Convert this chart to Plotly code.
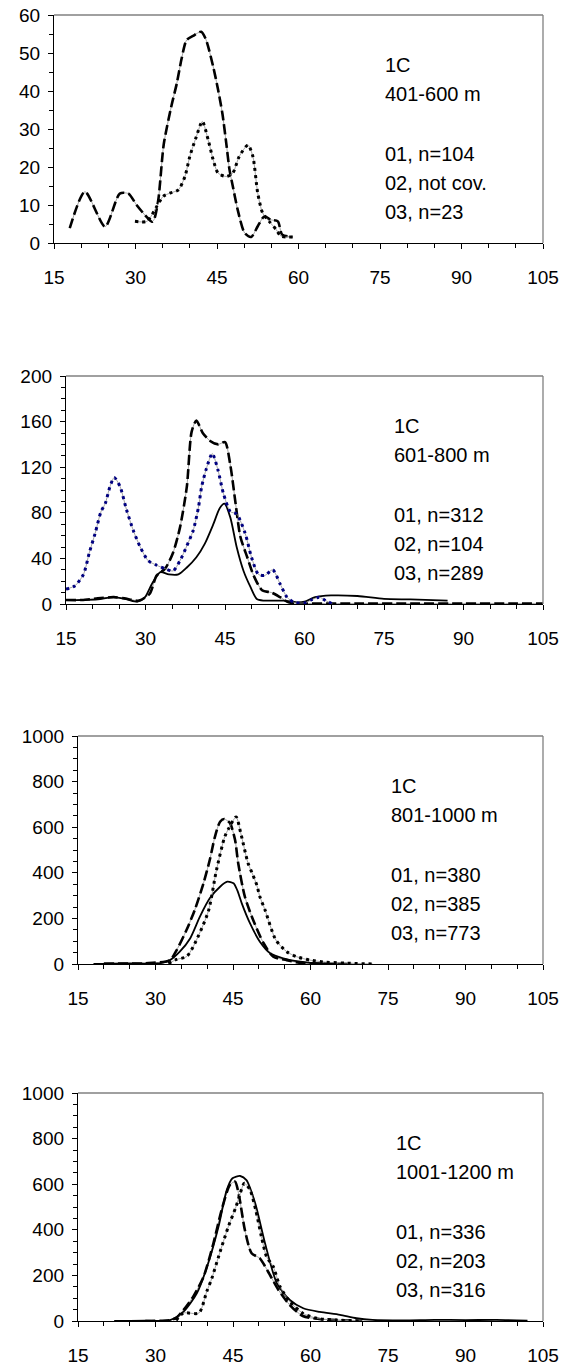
"""
Depth-stratified length distributions, area 1C, four depth bands.
"""

import plotly.graph_objects as go

W, H = 565, 1366

# ---- panel 1: 401-600 m ----
p1_x01 = [17.9, 20.7, 24.4, 27.1, 28.7, 30.2, 31.7, 33.0, 33.4, 34.2, 35.2, 36.6, 37.6, 38.5,
          39.4, 40.6, 42.1, 43.0, 44.3, 45.2, 46.0, 46.7, 47.3, 47.9, 48.8, 50.1, 51.3, 52.5,
          53.7, 54.9, 56.2, 57.0, 58.9]
p1_y01 = [3.9, 13.5, 4.3, 13.0, 13.0, 10.0, 7.4, 5.6, 6.1, 11.4, 26.0, 36.0, 42.0, 48.6,
          53.4, 54.5, 55.6, 53.4, 46.4, 40.3, 34.0, 26.3, 19.3, 15.0, 8.8, 2.6, 1.6, 4.4,
          7.0, 6.1, 5.7, 2.2, 1.6]
p1_x03 = [29.9, 32.1, 33.9, 35.1, 36.3, 37.9, 39.1, 40.0, 41.2, 42.3, 43.4, 44.3, 45.2, 46.7,
          47.9, 49.1, 50.7, 51.6, 52.5, 53.4, 54.6, 55.9, 56.8, 58.9]
p1_y03 = [5.7, 5.7, 9.6, 12.3, 13.1, 14.0, 17.5, 22.8, 28.0, 32.0, 27.0, 21.9, 18.4, 17.5,
          18.4, 22.8, 25.8, 22.8, 13.1, 7.9, 5.7, 3.5, 1.8, 1.6]

# ---- panel 2: 601-800 m ----
p2_x01 = [15, 18, 21, 24, 26, 28.8, 30.8, 32.1, 33.7, 35.2, 36.5, 37.8, 38.7, 39.6, 40.8,
          42.2, 43.7, 45, 46, 47, 47.9, 49.2, 50.4, 52, 53.8, 55.4, 57, 60, 70, 80, 90, 100, 105]
p2_y01 = [3.5, 3.5, 5, 6, 5, 3, 9, 25, 31, 45, 67, 103, 151, 161, 150,
          143, 140, 142, 122, 88, 59, 41, 25, 12, 10, 6, 1.5, 0.5, 0.5, 0.5, 0.5, 0.5, 0.5]
p2_x02 = [15, 18, 21, 24, 26.5, 28.5, 29.9, 31.2, 32.8, 34.4, 36.2, 37.8, 39.6, 41.2, 42.8,
          44, 44.9, 46, 47.2, 48.5, 49.8, 51, 52.3, 56, 58.5, 60, 62, 65, 70, 75, 80, 87]
p2_y02 = [3.5, 3.5, 4, 6, 4, 2, 6, 17.6, 28, 26, 26, 32, 41, 53, 70,
          84, 88, 76, 50, 29, 15, 4.4, 3, 3, 1.5, 2, 6, 7.5, 7, 4.5, 4, 3]
p2_x03 = [15, 16.7, 18.3, 19.4, 20.5, 21.6, 22.4, 23.3, 24.1, 25.2, 26.4, 27.7, 29, 30.5,
          32.1, 33.7, 35.2, 36.5, 37.8, 39, 40, 40.6, 41.5, 42.6, 43.7, 44.7, 46, 47.2, 48.8,
          50, 51.3, 52.5, 54, 55.4, 56.7, 58, 60, 61.5, 62.8, 64, 65.3]
p2_y03 = [13, 16, 26, 45, 62, 81, 88, 103, 111, 103, 83, 64.5, 50, 38,
          34, 31, 29, 38, 51, 64.5, 85, 103, 119, 132, 117, 97, 81, 79, 62,
          41, 26, 25, 30, 17.6, 6, 1.5, 1, 4, 6, 3, 0]

# ---- panel 3: 801-1000 m ----
p3_x01 = [20, 28, 32.8, 34.1, 36.0, 37.6, 39.3, 40.5, 41.5, 42.5, 43.3, 44.4, 45.4, 46.0,
          47.3, 48.9, 50.9, 52.8, 55.4, 58, 62, 68]
p3_y01 = [2, 3, 17, 61, 149, 237, 355, 456, 558, 624, 636, 618, 544, 443,
          295, 193, 92, 32, 17, 5, 2, 0]
p3_x02 = [18, 24, 28, 31, 32.8, 34.7, 36.7, 38.6, 40.5, 42.5, 43.9, 45.1, 45.8, 46.7, 48.3,
          50.2, 52.2, 54.7, 58, 60, 65]
p3_y02 = [0, 3, 2, 4, 17, 54, 112, 208, 288, 339, 361, 354, 325, 266, 178,
          98, 47, 25, 10, 5, 0]
p3_x03 = [32.5, 34.1, 36, 37.3, 40.2, 41.8, 43.4, 44.2, 45.6, 46.5, 47.9, 48.7, 49.6, 50.2,
          51.2, 53.3, 55.4, 57.3, 59.9, 63, 67, 72]
p3_y03 = [2, 20, 32, 76, 229, 412, 558, 596, 645, 574, 443, 399, 346, 295,
          237, 105, 54, 32, 17, 8, 4, 0]

# ---- panel 4: 1001-1200 m ----
p4_x01 = [28, 32.8, 34.1, 35.4, 37.3, 39.3, 41.2, 42.8, 44.4, 45.4, 46.2, 47.3, 48.6, 50.2,
          51.8, 53.8, 56, 58.5, 62, 66, 70]
p4_y01 = [0, 4, 15, 48, 107, 194, 340, 487, 597, 611, 545, 399, 297, 275,
          216, 136, 70, 22, 8, 3, 0]
p4_x02 = [22, 28, 32.8, 35.4, 38.0, 40.2, 42.2, 43.8, 44.9, 46.4, 47.6, 49.3, 51.2, 53.5,
          56.0, 58.6, 61.8, 65.7, 68.9, 72, 78, 84, 90, 96, 102]
p4_y02 = [0, 1, 4, 40, 121, 253, 414, 575, 626, 636, 618, 516, 341, 165,
          92, 56, 40, 27, 12, 5, 3, 5, 4, 5, 2]
p4_x03 = [34, 35.4, 38.4, 39.9, 40.9, 42.2, 44.1, 45.6, 46.4, 47.2, 48.3, 49.4, 50.5, 51.5,
          52.8, 54.1, 56, 58.5, 61.2, 65, 70]
p4_y03 = [3, 35, 35, 128, 187, 282, 414, 502, 560, 604, 575, 487, 370, 282,
          238, 151, 85, 34, 12, 4, 0]

# ---- labels ----
x_ticks = [15, 30, 45, 60, 75, 90, 105]
p1_text = ['1C', '401-600 m', '01, n=104', '02, not cov.', '03, n=23']
p2_text = ['1C', '601-800 m', '01, n=312', '02, n=104', '03, n=289']
p3_text = ['1C', '801-1000 m', '01, n=380', '02, n=385', '03, n=773']
p4_text = ['1C', '1001-1200 m', '01, n=336', '02, n=203', '03, n=316']

FONT = 'Liberation Sans, Arial, sans-serif'
FSIZE = 19
TEXT_SIZE = 20

# plot-area boxes, in page pixels: left, top, bottom
panels = [
    dict(left=54, top=15, bottom=243, ymax=60, dtick=10, minor=5, text=p1_text, tx=383,
         series=[(p1_x01, p1_y01, 'dash', 'black'), (p1_x03, p1_y03, 'dot', 'black')]),
    dict(left=66, top=376, bottom=604, ymax=200, dtick=40, minor=10, text=p2_text, tx=392,
         series=[(p2_x01, p2_y01, 'dash', 'black'), (p2_x02, p2_y02, 'solid', 'black'),
                 (p2_x03, p2_y03, 'dot', '#000080')]),
    dict(left=78, top=736, bottom=964, ymax=1000, dtick=200, minor=50, text=p3_text, tx=389,
         series=[(p3_x01, p3_y01, 'dash', 'black'), (p3_x02, p3_y02, 'solid', 'black'),
                 (p3_x03, p3_y03, 'dot', 'black')]),
    dict(left=78, top=1093, bottom=1321, ymax=1000, dtick=200, minor=50, text=p4_text, tx=394,
         series=[(p4_x01, p4_y01, 'dash', 'black'), (p4_x02, p4_y02, 'solid', 'black'),
                 (p4_x03, p4_y03, 'dot', 'black')]),
]
RIGHT = 543
TEXT_OFFSETS = [50, 79, 139, 168, 197]


def px(x):
    return x / W


def py(y):
    return 1 - y / H


def add_series(fig, sfx, x, y, style, color):
    """Excel-like smoothed line: thin grey base with a heavy dash pattern on top."""
    ax = dict(xaxis=f'x{sfx}', yaxis=f'y{sfx}')
    if style == 'solid':
        fig.add_trace(go.Scatter(x=x, y=y, mode='lines', line=dict(color=color, width=1.8,
                                 shape='spline', smoothing=0.7), showlegend=False, **ax))
        return
    fig.add_trace(go.Scatter(x=x, y=y, mode='lines', line=dict(color='#8c8c8c', width=0.8,
                             shape='spline', smoothing=0.7), showlegend=False, **ax))
    dash = '10px,4px' if style == 'dash' else '3px,4px'
    width = 2.6 if style == 'dash' else 3
    fig.add_trace(go.Scatter(x=x, y=y, mode='lines', line=dict(color=color, width=width,
                             dash=dash, shape='spline', smoothing=0.7),
                             showlegend=False, **ax))


fig = go.Figure()
layout = dict(width=W, height=H, margin=dict(l=0, r=0, t=0, b=0, autoexpand=False),
              paper_bgcolor='white', plot_bgcolor='white', showlegend=False,
              font=dict(family=FONT, size=FSIZE, color='black'))
shapes, annotations = [], []

for i, p in enumerate(panels, start=1):
    sfx = '' if i == 1 else str(i)
    for x, y, style, color in p['series']:
        add_series(fig, sfx, x, y, style, color)

    xdom = [px(p['left']), px(RIGHT)]
    ydom = [py(p['bottom']), py(p['top'])]
    layout[f'xaxis{sfx}'] = dict(
        domain=xdom, anchor=f'y{sfx}', range=[15, 105], tickvals=x_ticks, automargin=False,
        ticks='outside', ticklen=5, tickwidth=1.2, tickcolor='black',
        showline=True, linecolor='black', linewidth=1.3, showgrid=False, zeroline=False,
        minor=dict(tick0=15, dtick=5, ticks='outside', ticklen=4, tickcolor='black',
                   tickwidth=1, showgrid=False),
        ticklabelstandoff=12, ticklabeloverflow='allow', tickfont=dict(size=FSIZE))
    layout[f'yaxis{sfx}'] = dict(
        domain=ydom, anchor=f'x{sfx}', range=[0, p['ymax']], dtick=p['dtick'], tick0=0,
        automargin=False,
        ticks='outside', ticklen=5, tickwidth=1.2, tickcolor='black',
        showline=True, linecolor='black', linewidth=1.3, showgrid=False, zeroline=False,
        minor=dict(tick0=0, dtick=p['minor'], ticks='outside', ticklen=4, tickcolor='black',
                   tickwidth=1, showgrid=False),
        ticklabelstandoff=4, ticklabeloverflow='allow', tickfont=dict(size=FSIZE))

    # grey top and right border of the plot area
    shapes.append(dict(type='line', xref=f'x{sfx} domain', yref=f'y{sfx} domain',
                       x0=0, x1=1, y0=1, y1=1, line=dict(color='#808080', width=1.3)))
    shapes.append(dict(type='line', xref=f'x{sfx} domain', yref=f'y{sfx} domain',
                       x0=1, x1=1, y0=0, y1=1, line=dict(color='#808080', width=1.3)))

    for line, off in zip(p['text'], TEXT_OFFSETS):
        annotations.append(dict(text=line, xref='paper', yref='paper',
                                x=px(p['tx']), y=py(p['top'] + off),
                                xanchor='left', yanchor='middle', showarrow=False,
                                font=dict(family=FONT, size=TEXT_SIZE, color='black')))

layout['shapes'] = shapes
layout['annotations'] = annotations
fig.update_layout(**layout)

# drop the default body margin so the figure fills the window exactly; no mode bar
fig.write_html("out.html", config={'displayModeBar': False},
               post_script="document.body.style.margin = '0';")
